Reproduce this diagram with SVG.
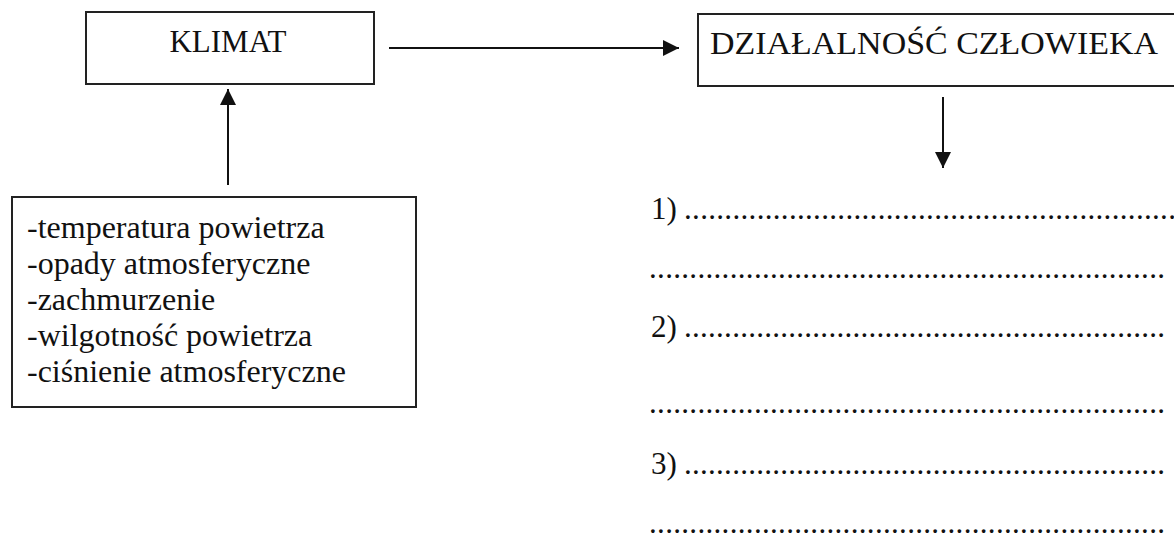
<svg xmlns="http://www.w3.org/2000/svg" width="1174" height="535" viewBox="0 0 1174 535">
<style>
.box{fill:#fff;stroke:#222;stroke-width:2}
.conn{stroke:#111;stroke-width:2;fill:none}
.t{font-family:"Liberation Serif","Times New Roman",serif;fill:#111}
</style>
<defs>
<marker id="ah" markerUnits="userSpaceOnUse" markerWidth="18" markerHeight="16" refX="16" refY="8" orient="auto">
<path d="M0,0 L16,8 L0,16 Z" fill="#111"/>
</marker>
</defs>
<rect width="1174" height="535" fill="#fff"/>
<g class="t" font-size="30">
<g id="klimat">
<rect class="box" x="86" y="12" width="288" height="72"/>
<text x="228" y="52" text-anchor="middle" font-size="31">KLIMAT</text>
</g>
<g id="dzialalnosc">
<rect class="box" x="698" y="14" width="500" height="72"/>
<text x="710" y="54" font-size="31" textLength="448" lengthAdjust="spacingAndGlyphs">DZIAŁALNOŚĆ CZŁOWIEKA</text>
</g>
<g id="czynniki" font-size="32">
<rect class="box" x="12" y="197" width="404" height="210"/>
<text x="27" y="238">-temperatura powietrza</text>
<text x="27" y="274">-opady atmosferyczne</text>
<text x="27" y="310">-zachmurzenie</text>
<text x="27" y="346">-wilgotność powietrza</text>
<text x="27" y="382">-ciśnienie atmosferyczne</text>
</g>
<g id="odpowiedzi" font-size="31">
<text x="651" y="219">1)</text>
<text x="684" y="219" textLength="500" lengthAdjust="spacing">..............................................................</text>
<text x="649" y="278" textLength="516" lengthAdjust="spacing">................................................................</text>
<text x="651" y="337">2)</text>
<text x="684" y="337" textLength="481" lengthAdjust="spacing">............................................................</text>
<text x="649" y="413" textLength="516" lengthAdjust="spacing">................................................................</text>
<text x="651" y="474">3)</text>
<text x="684" y="474" textLength="481" lengthAdjust="spacing">............................................................</text>
<text x="649" y="533" textLength="516" lengthAdjust="spacing">................................................................</text>
</g>
</g>
<g id="connectors">
<line class="conn" x1="389" y1="48" x2="679" y2="48" marker-end="url(#ah)"/>
<line class="conn" x1="228" y1="185" x2="228" y2="89" marker-end="url(#ah)"/>
<line class="conn" x1="943" y1="97" x2="943" y2="168" marker-end="url(#ah)"/>
</g>
</svg>
